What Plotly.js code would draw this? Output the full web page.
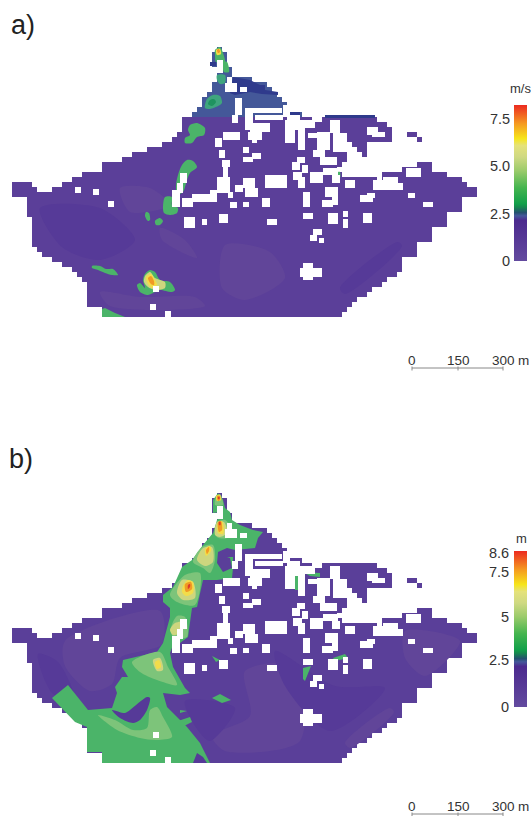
<!DOCTYPE html>
<html><head><meta charset="utf-8">
<script src="https://cdn.plot.ly/plotly-3.0.1.min.js"></script>
<style>html,body{margin:0;padding:0;background:#fff}#plot{width:531px;height:816px}
#plot .cartesianlayer .subplot .plot{filter:blur(.6px)}</style>
</head><body><div id="plot"></div>
<script>
// ---- map extent: rows of covered grid cells, [rowTop, [from,to], [from,to]...] in map units
const cellSize = 5;
const domainRows = [
[47,[216,220]],[52,[213,225]],[57,[213,227]],[62,[210,228]],[67,[215,230]],[72,[217,233]],[77,[216,250]],
[82,[213,265]],[87,[210,272]],[92,[207,278]],[97,[202,282]],[102,[200,285]],[107,[197,288]],[112,[192,300]],
[117,[182,310],[323,375]],[122,[180,385]],[127,[180,393]],[132,[175,393],[400,403],[405,417]],
[137,[173,392],[415,420]],[142,[163,345],[350,365],[390,393]],[147,[148,347],[355,365]],[152,[133,348],[363,367]],[157,[120,348]],
[162,[103,340],[415,430]],[167,[100,338],[403,430]],[172,[82,342],[382,448]],[177,[72,377],[380,460]],
[182,[12,30],[60,467]],[187,[12,35],[50,475]],[192,[12,475]],[197,[27,460]],[202,[27,460]],[207,[27,460]],
[212,[27,445]],[217,[30,445]],[222,[32,445]],[227,[32,430]],[232,[30,430]],[237,[30,430]],[242,[33,415]],
[247,[37,415]],[252,[40,415]],[257,[50,400]],[262,[60,400]],[267,[70,400]],[272,[75,395]],[277,[80,388]],
[282,[87,380]],[287,[87,370]],[292,[87,365]],[297,[87,358]],[302,[87,353]],[307,[102,347]],[312,[102,342]]];
// no-data blocks [x0,y0,x1,y1]
const noData = [
[217,60,223,73],[227,77,232,83],[225,83,237,92],[240,87,247,92],[235,98,242,115],[232,115,238,123],
[245,108,282,113],[245,113,253,130],[255,115,283,120],[250,123,270,132],[248,132,262,140],[252,140,257,143],
[223,132,240,140],[215,138,222,147],[243,147,249,153],[243,157,253,162],[252,153,261,159],[219,150,225,158],
[222,160,230,167],[223,167,228,177],[217,177,230,193],[228,192,233,198],[235,185,243,192],[245,188,258,197],[243,178,255,188],
[265,175,287,188],[230,202,237,208],[243,202,249,207],[262,198,270,207],[219,214,228,223],[267,219,277,225],
[180,173,187,183],[177,183,183,193],[172,190,180,207],[182,198,193,207],[192,194,217,202],[210,190,217,197],
[75,187,81,193],[93,189,99,195],[108,201,114,207],[184,217,195,228],[202,219,207,225],[153,286,159,292],[150,304,156,310],[165,311,171,317],
[283,105,290,117],[287,115,300,125],[300,120,315,128],[285,120,302,130],[285,130,295,143],[298,128,305,150],
[308,133,317,138],[317,132,330,150],[330,120,340,133],[333,133,347,152],[367,127,378,135],[372,132,385,137],
[313,150,325,157],[320,157,337,165],[297,157,305,163],[292,162,300,170],[302,165,308,173],[293,172,302,180],[298,177,305,188],
[310,172,323,183],[323,168,338,175],[332,175,340,183],[345,180,355,188],[325,187,338,197],[332,197,338,205],[322,200,333,207],
[303,192,310,207],[360,195,373,202],[367,193,375,198],[373,180,385,188],[383,177,398,185],[373,183,403,190],
[406,168,421,177],[408,193,415,198],[423,202,433,207],
[303,213,313,219],[328,213,338,224],[343,211,348,217],[343,219,348,228],[363,213,372,223],
[313,229,322,235],[310,235,317,241],[319,238,324,243],[303,263,313,280],[300,268,322,277]];

// ---- panel a: speed (m/s)
const speedMax = 8.2, speedBase = 0.75, speedBand = 2.38, speedBandBelow = 117;
const speedTicks = [[0,261,'0'],[2.5,214,'2.5'],[5,166,'5.0'],[7.5,119,'7.5']];
const aLight = [[[120,188],[150,188],[170,205],[130,212]],[[160,228],[185,240],[197,258],[162,240]],
 [[100,292],[140,297],[195,297],[205,306],[110,306]],[[225,245],[270,252],[285,278],[245,300],[222,288]]];
const aDark = [[[340,288],[398,242],[402,246],[345,294]],[[40,208],[100,208],[135,240],[100,260],[62,247]]];
const aNavy = [[[233,77],[250,80],[260,85],[265,85],[265,90],[278,92],[278,95],[262,94],[250,92],[235,95],[230,93]]];
const aNavyLines = [[[325,115],[375,115],[375,118],[325,118]],[[283,112],[300,112],[300,117],[283,117]],[[210,62],[216,62],[216,66],[210,66]]];
const aTeal = [[[205,108],[207,99],[213,95],[220,96],[222,103],[218,106],[210,109]],[[217,75],[225,75],[225,83],[220,84],[217,80]]];
const aDeep = [[[208,104],[210,100],[214,99],[216,102],[212,106]]];
const aGreen = [[[215,50],[220,47],[224,56],[225,62],[223,62],[216,62],[215,55]],[[223,62],[227,62],[229,72],[224,72]],
 [[190,125],[197,123],[205,128],[204,135],[197,137],[192,143],[185,143],[185,138],[190,135],[188,130]],
 [[187,160],[193,161],[197,167],[190,173],[187,180],[183,192],[177,195],[176,185],[178,175],[182,165]],
 [[165,197],[172,197],[172,205],[178,208],[177,213],[170,215],[164,213],[163,207]],
 [[146,212],[149,213],[150,220],[148,221],[145,216]],[[155,221],[160,218],[163,221],[160,225],[156,225]],
 [[92,266],[100,266],[106,269],[113,269],[118,275],[112,275],[105,273],[98,270],[92,268]],
 [[150,270],[155,272],[160,280],[170,282],[175,290],[172,292],[160,290],[155,292],[148,295],[140,292],[137,285],[140,283],[145,288],[143,280],[145,274]],
 [[338,172],[340,172],[340,178],[338,178]]];
const aGreenEdge = [[[102,309],[105,308],[115,313],[125,317],[102,317]]];
const aPale = [[[145,276],[150,272],[155,278],[165,282],[165,288],[155,290],[148,287],[144,282]]];
const aYellow = [[[146,277],[151,274],[155,280],[157,285],[152,288],[148,284]],[[216,50],[220,49],[221,54],[217,55]]];
const aOrange = [[[148,278],[151,276],[154,281],[154,285],[151,284]],[[217,50],[219,49],[220,52],[218,53]]];

// ---- panel b: depth (m)
const depthMax = 8.6, depthBase = 0.8;
const depthTicks = [[0,261,'0'],[2.5,214,'2.5'],[5,171,'5'],[7.5,126,'7.5'],[8.6,107,'8.6']];
const bLight = [[[65,195],[160,165],[162,198],[120,212],[112,238],[90,245],[65,220]],[[245,225],[295,220],[300,295],[225,305],[212,290],[250,270]],
 [[405,185],[460,195],[425,230],[405,212]],[[345,297],[390,262],[394,266],[350,302]]];
const bDark = [[[185,255],[235,262],[210,295],[195,280]],[[38,208],[58,216],[75,255],[52,247]],[[275,205],[335,240],[385,242],[330,285],[285,240]]];
const bGreen = [[[218,47],[223,54],[225,62],[230,66],[232,74],[240,79],[253,84],[263,86],[258,92],[255,102],[235,104],[227,102],[218,106],[217,117],[223,126],[232,122],[230,112],[227,111],[233,111],[233,122],[232,132],[217,134],[203,134],[197,161],[192,162],[188,191],[180,197],[173,199],[170,207],[173,221],[185,242],[190,247],[180,249],[163,247],[167,261],[187,281],[200,297],[210,317],[102,317],[102,306],[87,306],[87,281],[75,276],[52,252],[68,239],[88,264],[112,262],[117,247],[115,241],[122,231],[128,231],[122,221],[123,214],[157,206],[163,197],[170,171],[170,162],[163,156],[163,149],[173,141],[182,121],[192,114],[203,99],[213,87],[217,74],[223,67],[220,66],[213,67],[213,54]],
 [[303,222],[311,220],[305,235],[303,233]],[[333,212],[345,208],[348,212],[335,215]],[[295,130],[298,130],[298,144],[295,144]],[[303,126],[320,127],[320,131],[310,130]],
 [[212,252],[220,248],[231,254],[222,257]],[[180,264],[187,265],[180,267]],[[178,275],[190,271],[192,276],[184,280],[186,285],[182,284]],[[212,210],[220,214],[216,216]]];
const bPocket = [[[112,264],[125,267],[130,264],[147,251],[150,252],[147,264],[140,274],[133,277],[120,272]]];
const bPocketEdge = [[[193,317],[197,307],[203,311],[207,317]]];
const bMid = [[[132,216],[160,206],[168,221],[177,239],[157,234],[140,226]],
 [[98,269],[115,274],[133,284],[147,282],[150,264],[157,261],[163,271],[172,291],[157,294],[140,292],[117,284]],
 [[177,170],[185,171],[187,191],[173,191],[171,182]],[[185,129],[200,127],[195,159],[177,156],[170,149]],
 [[202,101],[213,99],[215,114],[210,127],[203,122],[193,116]],[[217,76],[225,74],[232,84],[227,92],[217,91]],[[216,51],[220,48],[223,59],[215,59]]];
const bPale = [[[175,177],[182,176],[180,187],[173,189],[170,184]],[[182,134],[193,136],[195,152],[183,154],[177,147]],
 [[203,102],[212,101],[213,116],[205,120],[197,114]],[[217,76],[224,76],[227,87],[220,91],[215,89]],[[153,214],[160,212],[163,224],[157,225]]];
const bYellow = [[[183,140],[188,134],[193,136],[193,147],[186,150],[182,146]],[[205,103],[210,100],[211,105],[206,110]],
 [[218,77],[222,75],[224,83],[223,88],[218,87]],[[216,50],[220,49],[221,54],[217,55]],[[155,216],[159,214],[161,221],[157,223]]];
const bOrange = [[[185,138],[191,136],[192,143],[186,146]],[[206,104],[209,101],[209,105],[207,108]],[[218,76],[221,75],[222,84],[219,86]],[[217,50],[220,50],[220,54],[218,55]]];
const bRed = [[[188,139],[190,138],[190,141],[188,143]],[[219,76],[220.5,76],[220.5,79],[219,79]],[[218,51],[219.5,51],[219.5,53],[218,53]]];

// scale bar
const barTicks = [412,458,503], barLabels = ['0','150','300'], barY = 368, barLabelY = 360;

// ---- styles
const C = {light:'#614599',dark:'#563a98',navy:'#2f3a8c',teal:'#3fa57e',deep:'#1f9360',green:'#4bb469',mid:'#7dc47a',pale:'#cdd67e',yellow:'#f2dc4a',orange:'#f09a25',red:'#dd3b2a',text:'#333333'};
const scale = [[0,'#634a9f'],[.26,'#4b2a8e'],[.29,'#44589a'],[.31,'#24506e'],[.345,'#16884f'],[.366,'#12a04a'],[.47,'#45b54f'],[.58,'#9ccb6b'],[.667,'#cfd982'],[.74,'#e5e27a'],[.785,'#f6e51a'],[.88,'#f59a20'],[1,'#ec2a20']];
const font = {family:'Liberation Sans, Arial, sans-serif',size:14.5,color:C.text};

const gridX = [], gridY = [];
for (let x = 12; x < 477; x += cellSize) gridX.push(x + cellSize/2);
for (let y = 42; y < 317; y += cellSize) gridY.push(y + cellSize/2);
function grid(base, band, bandBelow){
  return gridY.map(cy => {
    const r = domainRows.find(q => q[0] === cy - cellSize/2);
    return gridX.map(cx => {
      if (!r) return null;
      const inside = r.slice(1).some(s => cx >= s[0] && cx <= s[1]);
      if (!inside) return null;
      return (band && cy < bandBelow && cx < 300) ? band : base;
    });
  });
}
function poly(rings,color,ya,sharp){
  const x=[],y=[];
  rings.forEach(g=>{g.forEach(p=>{x.push(p[0]);y.push(p[1]);});x.push(g[0][0],null);y.push(g[0][1],null);});
  return {type:'scatter',mode:'lines',line:{width:0,shape:sharp?'linear':'spline',smoothing:0.8},fill:'toself',fillcolor:color,x,y,xaxis:'x',yaxis:ya,hoverinfo:'skip',showlegend:false};
}
const holeRings = noData.map(b=>[[b[0],b[1]],[b[2],b[1]],[b[2],b[3]],[b[0],b[3]]]);
function bar(ya){
  const x=[barTicks[0],barTicks[2],null],y=[barY,barY,null];
  barTicks.forEach(t=>{x.push(t,t,null);y.push(barY-1.5,barY+2.5,null);});
  return {type:'scatter',mode:'lines',x,y,xaxis:'x',yaxis:ya,line:{color:'#888888',width:1},hoverinfo:'skip',showlegend:false};
}
function cbar(top){
  return {x:514/531,xanchor:'left',xpad:0,ypad:0,y:1-top/816,yanchor:'top',len:156,lenmode:'pixels',thickness:13,thicknessmode:'pixels',outlinewidth:0,borderwidth:0,ticks:'',showticklabels:false};
}
const data = [
 {type:'heatmap',x:gridX,y:gridY,z:grid(speedBase,speedBand,speedBandBelow),xaxis:'x',yaxis:'y',zmin:0,zmax:speedMax,colorscale:scale,colorbar:cbar(105),hoverinfo:'skip'},
 poly(aLight,C.light,'y'),poly(aDark,C.dark,'y'),poly(aNavy,C.navy,'y',true),poly(aNavyLines,C.navy,'y',true),poly(aTeal,C.teal,'y'),poly(aDeep,C.deep,'y'),poly(aGreen,C.green,'y'),poly(aGreenEdge,C.green,'y',true),
 poly(aPale,C.pale,'y'),poly(aYellow,C.yellow,'y'),poly(aOrange,C.orange,'y'),poly(holeRings,'#ffffff','y',true),bar('y'),
 {type:'heatmap',x:gridX,y:gridY,z:grid(depthBase),xaxis:'x',yaxis:'y2',zmin:0,zmax:depthMax,colorscale:scale,colorbar:cbar(551),hoverinfo:'skip'},
 poly(bLight,C.light,'y2'),poly(bDark,C.dark,'y2'),poly(bGreen,C.green,'y2',true),poly(bPocket,C.dark,'y2'),poly(bPocketEdge,C.dark,'y2',true),poly(bMid,C.mid,'y2'),poly(bPale,C.pale,'y2'),
 poly(bYellow,C.yellow,'y2'),poly(bOrange,C.orange,'y2'),poly(bRed,C.red,'y2'),poly(holeRings,'#ffffff','y2',true),bar('y2')
];
const ann = [];
function text(t,x,y,ya,anchor,f){ann.push({text:t,x,y,xref:'x',yref:ya,xanchor:anchor,yanchor:'middle',showarrow:false,font:f||font});}
speedTicks.forEach(t=>text(t[2],512,t[1],'y','right'));
depthTicks.forEach(t=>text(t[2],511,t[1],'y2','right'));
['y','y2'].forEach(ya=>{
  barTicks.forEach((t,i)=>text(barLabels[i],t,barLabelY,ya,'center',{...font,size:13.5}));
  text('m',516,barLabelY,ya,'left',{...font,size:13.5});
});
text('m/s',508,88,'y','left',{...font,size:13});
text('m',514,92,'y2','left',{...font,size:13});
text('a)',9,25,'y','left',{...font,size:27,color:'#222222'});
text('b)',7,13,'y2','left',{...font,size:27,color:'#222222'});
const hidden = {visible:false,fixedrange:true};
const layout = {
 width:531,height:816,margin:{l:0,r:0,t:0,b:0,autoexpand:false},paper_bgcolor:'#fff',plot_bgcolor:'rgba(0,0,0,0)',showlegend:false,
 xaxis:{...hidden,domain:[0,1],range:[0,531]},
 yaxis:{...hidden,domain:[416/816,1],range:[400,0]},
 yaxis2:{...hidden,domain:[0,416/816],range:[370,-46]},
 annotations:ann
};
Plotly.newPlot('plot',data,layout,{staticPlot:true,displayModeBar:false});
</script></body></html>
